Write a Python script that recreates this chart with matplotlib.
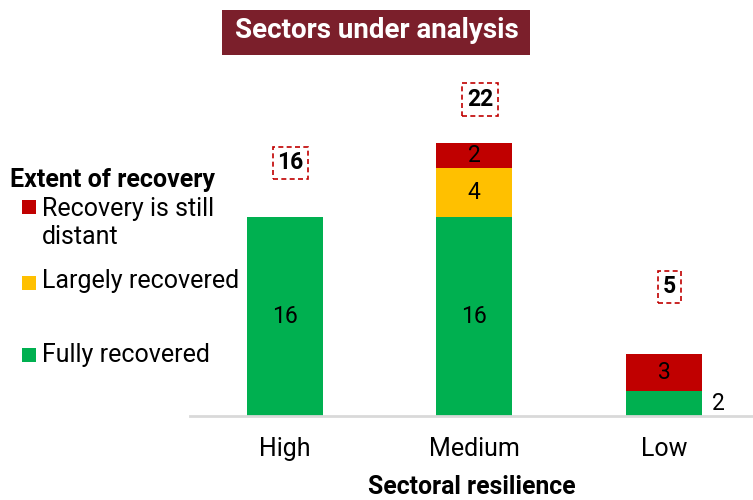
import matplotlib.pyplot as plt
from matplotlib.patches import Rectangle

plt.rcParams["font.family"] = ["Roboto", "DejaVu Sans"]

categories = ["High", "Medium", "Low"]
fully = [16, 16, 2]
largely = [0, 4, 0]
distant = [0, 2, 3]
totals = [16, 22, 5]

green = "#00B050"
yellow = "#FFC000"
red = "#C00000"
fs = 16.5

fig = plt.figure(figsize=(7.53, 5), dpi=100)
ax = fig.add_axes([190 / 753, 84 / 500, 1 - 190 / 753, 376 / 500])

x = range(len(categories))
w = 0.4
ax.bar(x, fully, w, color=green)
ax.bar(x, largely, w, bottom=fully, color=yellow)
bottom2 = [a + b for a, b in zip(fully, largely)]
ax.bar(x, distant, w, bottom=bottom2, color=red)

# how far above each bar the total sits
total_gap = [4.4, 3.5, 5.4]

for i in x:
    # segment labels
    if fully[i] >= 3:
        ax.text(i, fully[i] / 2, str(fully[i]), ha="center", va="center", fontsize=fs)
    elif fully[i] > 0:
        ax.text(i + w / 2 + 0.09, fully[i] / 2, str(fully[i]), ha="center", va="center", fontsize=fs)
    if largely[i] > 0:
        ax.text(i, fully[i] + largely[i] / 2, str(largely[i]), ha="center", va="center", fontsize=fs)
    if distant[i] > 0:
        ax.text(i, bottom2[i] + distant[i] / 2, str(distant[i]), ha="center", va="center", fontsize=fs)
    # totals in dashed boxes
    ax.text(i + 0.03, totals[i] + total_gap[i], str(totals[i]), ha="center", va="center",
            fontsize=fs, fontweight="bold",
            bbox=dict(boxstyle="square,pad=0.2", fc="white", ec=red, ls=(0, (3, 2)), lw=1.2))

ax.set_xlim(-0.5, 2.47)
ax.set_ylim(0, 30.3)
ax.set_xticks(list(x))
ax.set_xticklabels(categories, fontsize=18)
ax.tick_params(axis="x", length=0, pad=15)
ax.set_yticks([])
for s in ["top", "right", "left"]:
    ax.spines[s].set_visible(False)
ax.spines["bottom"].set_color("#D9D9D9")
ax.spines["bottom"].set_linewidth(2)
ax.set_xlabel("Sectoral resilience", fontsize=17.8, fontweight="bold", labelpad=10)

# title box
fig.patches.append(Rectangle((222 / 753, 1 - 55 / 500), 308 / 753, 45 / 500,
                             transform=fig.transFigure, fc="#7B1F2B", ec="none"))
fig.text(377 / 753, 1 - 31 / 500, "Sectors under analysis", ha="center", va="center",
         fontsize=20, fontweight="bold", color="white")

# legend
fig.text(10 / 753, 1 - 180 / 500, "Extent of recovery", ha="left", va="center",
         fontsize=18, fontweight="bold")
legend_items = [("Recovery is still\ndistant", red, 207, 223),
                ("Largely recovered", yellow, 283, 281),
                ("Fully recovered", green, 355, 355)]
for label, col, sq_y, txt_y in legend_items:
    fig.patches.append(Rectangle((22 / 753, 1 - (sq_y + 7) / 500), 14 / 753, 14 / 500,
                                 transform=fig.transFigure, fc=col, ec="none"))
    fig.text(42 / 753, 1 - txt_y / 500, label, ha="left", va="center", fontsize=18,
             linespacing=1.22)

fig.savefig("out.png", dpi=100)
